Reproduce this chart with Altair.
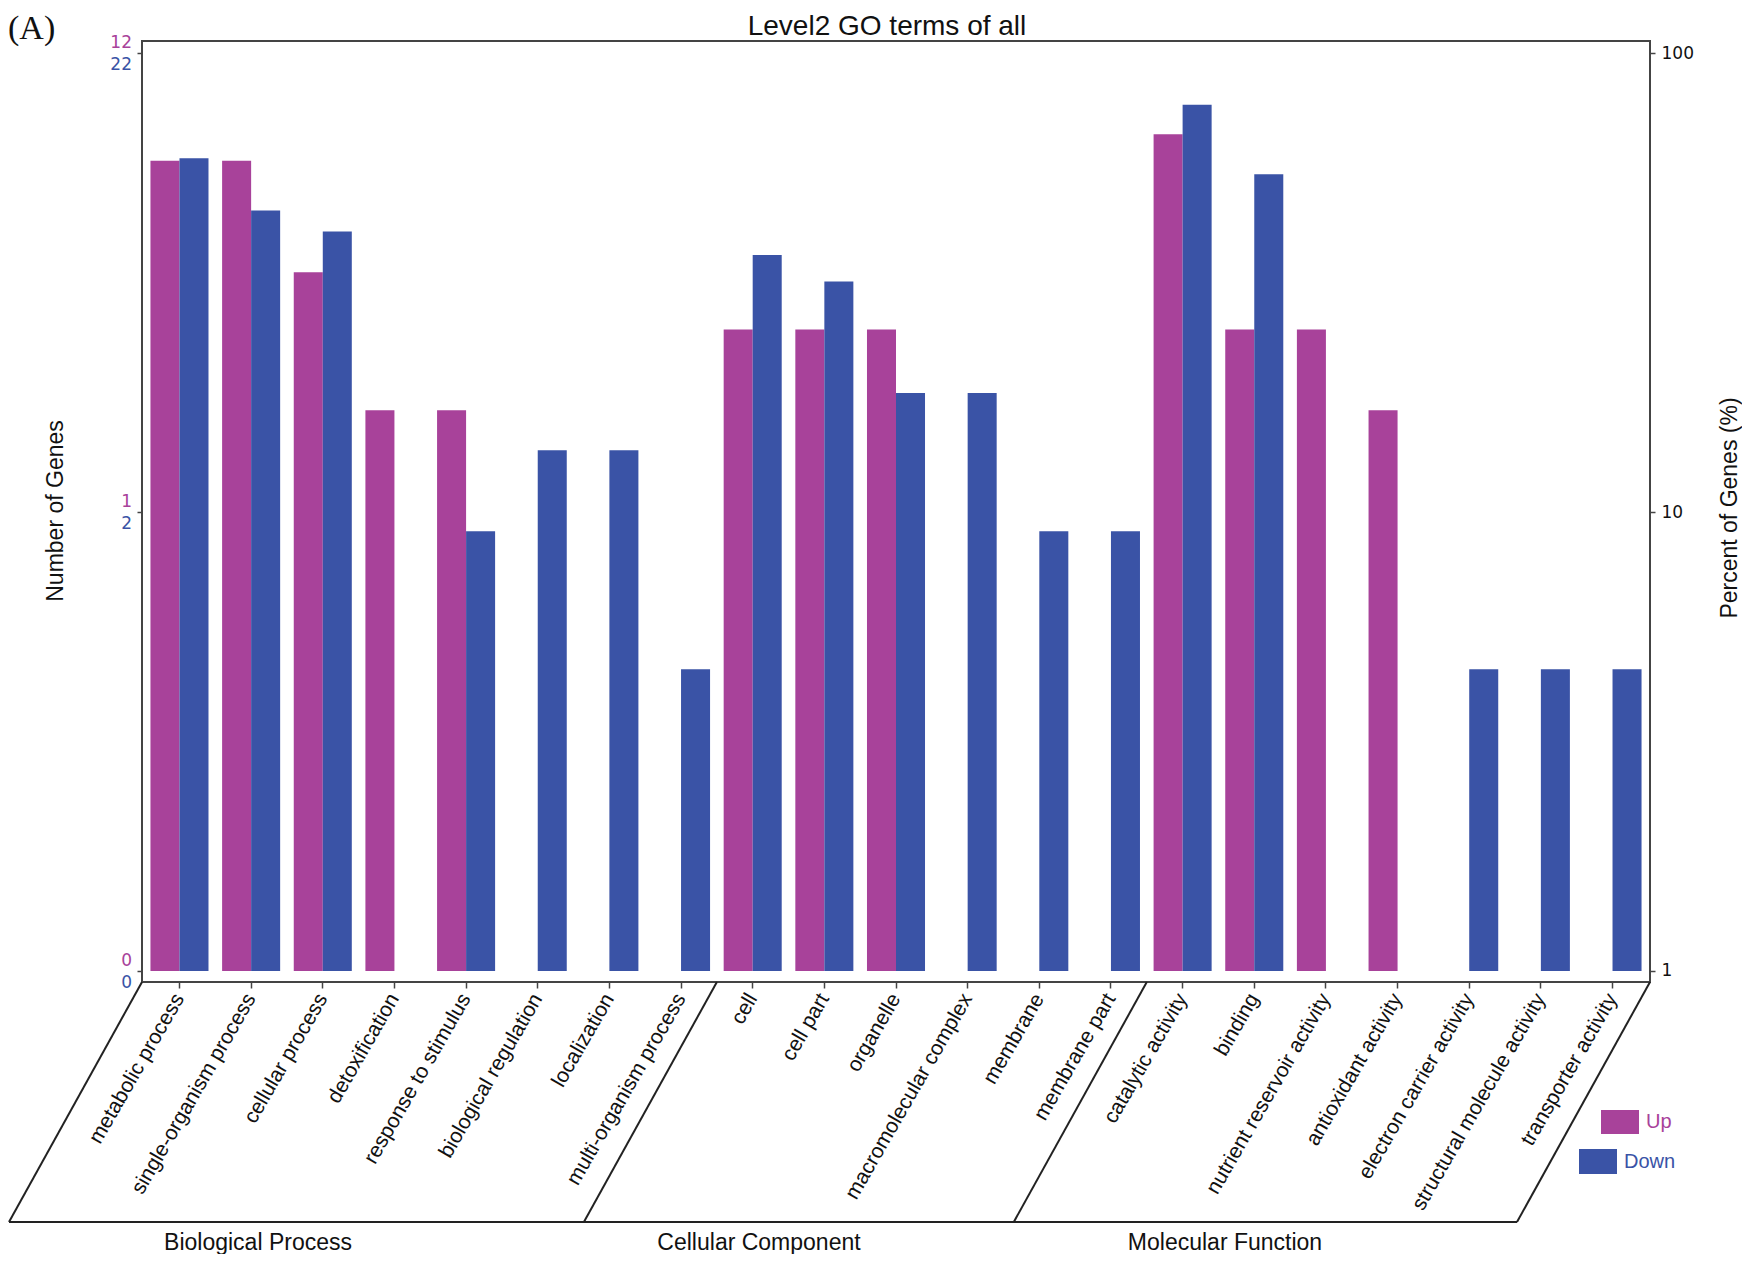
import altair as alt
import pandas as pd

# ---------------- data ----------------
categories = [
    "metabolic process", "single-organism process", "cellular process",
    "detoxification", "response to stimulus", "biological regulation",
    "localization", "multi-organism process",
    "cell", "cell part", "organelle", "macromolecular complex",
    "membrane", "membrane part",
    "catalytic activity", "binding", "nutrient reservoir activity",
    "antioxidant activity", "electron carrier activity",
    "structural molecule activity", "transporter activity",
]
group_names = ["Biological Process", "Cellular Component", "Molecular Function"]
up_counts = [7, 7, 4, 2, 2, 0, 0, 0, 3, 3, 3, 0, 0, 0, 8, 3, 3, 2, 0, 0, 0]
down_counts = [13, 10, 9, 0, 2, 3, 3, 1, 8, 7, 4, 4, 2, 2, 17, 12, 0, 0, 1, 1, 1]
up_total = 12
down_total = 22
series = ["Up", "Down"]
colors = ["#A8429A", "#3A53A6"]
tick_percents = [1, 10, 100]
up_tick_labels = ["0", "1", "12"]
down_tick_labels = ["0", "2", "22"]

rows = []
for cat, u, d in zip(categories, up_counts, down_counts):
    if u > 0:
        rows.append({"term": cat, "series": "Up", "count": u, "total": up_total})
    if d > 0:
        rows.append({"term": cat, "series": "Down", "count": d, "total": down_total})
df = pd.DataFrame(rows)
ticks_df = pd.DataFrame({"p": tick_percents, "up": up_tick_labels, "down": down_tick_labels})
one = pd.DataFrame({"k": [0]})

# ---------------- layout ----------------
W, H = 1508, 941
FLOOR = 240       # depth of the slanted floor
SLANT = 133       # horizontal shift of the floor
LAB = "Liberation Sans"
NUM = "DejaVu Sans"
AX = "#444444"

yscale = alt.Scale(type="log", domain=[0.946, 106.4], nice=False)

bars = alt.Chart(df).transform_calculate(
    pct="datum.count / datum.total * 100", base="1"
).mark_bar().encode(
    x=alt.X("term:N", sort=categories,
            scale=alt.Scale(paddingInner=0.19, paddingOuter=0.118),
            axis=alt.Axis(title=None, labelAngle=300, labelAlign="right",
                          labelBaseline="middle", labelFont=LAB, labelFontSize=21,
                          labelColor="#111111", labelPadding=7, tickSize=6,
                          tickColor=AX, tickWidth=1.5, domain=False, labelLimit=400)),
    xOffset=alt.XOffset("series:N", sort=series,
                        scale=alt.Scale(domain=series, paddingInner=0, paddingOuter=0)),
    y=alt.Y("pct:Q", scale=yscale,
            axis=alt.Axis(orient="right", values=tick_percents, format="d", title=None,
                          domain=False, grid=False, tickSize=5, tickColor=AX, tickWidth=1.5,
                          labelFont=NUM, labelFontSize=17, labelColor="#111111",
                          labelPadding=6)),
    y2="base:Q",
    color=alt.Color("series:N", scale=alt.Scale(domain=series, range=colors), legend=None),
)

left_up = alt.Chart(ticks_df).mark_text(
    align="right", baseline="middle", dy=-10, font=NUM, fontSize=17, color=colors[0]
).encode(
    x=alt.value(-10),
    y=alt.Y("p:Q", scale=yscale,
            axis=alt.Axis(orient="left", values=tick_percents, labels=False, title=None,
                          domain=False, grid=False, tickSize=5, tickColor=AX, tickWidth=1.5)),
    text="up:N",
)
left_down = alt.Chart(ticks_df).mark_text(
    align="right", baseline="middle", dy=12, font=NUM, fontSize=17, color=colors[1]
).encode(
    x=alt.value(-10),
    y=alt.Y("p:Q", scale=yscale, axis=None),
    text="down:N",
)

def rule(x1, y1, x2, y2):
    return alt.Chart(one).mark_rule(color="#222222", strokeWidth=2).encode(
        x=alt.value(x1), y=alt.value(y1), x2=alt.value(x2), y2=alt.value(y2))

div1 = 574.9
div2 = 1004.8
floor_layers = [
    rule(0, H, -SLANT, H + FLOOR),
    rule(div1, H, div1 - SLANT, H + FLOOR),
    rule(div2, H, div2 - SLANT, H + FLOOR),
    rule(W, H, W - SLANT, H + FLOOR),
    rule(-SLANT, H + FLOOR, W - SLANT, H + FLOOR),
]

def label(txt, x, y, size=20, color="#111111", align="center", font=LAB, angle=0, weight="normal"):
    kw = dict(align=align, baseline="middle", font=font, fontSize=size, color=color,
              fontWeight=weight)
    if angle:
        kw["angle"] = angle
    return alt.Chart(one).mark_text(**kw).encode(
        x=alt.value(x), y=alt.value(y), text=alt.value(txt))

texts = [
    label("Level2 GO terms of all", 745, -14, size=28),
    label("(A)", -134, -12, size=34, align="left", font="Liberation Serif"),
    label("Number of Genes", -86, 470, size=23, angle=270),
    label("Percent of Genes (%)", 1588, 467, size=23, angle=270),
    label(group_names[0], 116, 1202, size=23),
    label(group_names[1], 617, 1202, size=23),
    label(group_names[2], 1083, 1202, size=23),
    label(series[0], 1504, 1081, size=20, color=colors[0], align="left"),
    label(series[1], 1482, 1121, size=20, color=colors[1], align="left"),
]

def swatch(x1, y1, x2, y2, color):
    return alt.Chart(one).mark_rect(color=color).encode(
        x=alt.value(x1), y=alt.value(y1), x2=alt.value(x2), y2=alt.value(y2))

legend = [
    swatch(1459, 1069, 1497, 1093, colors[0]),
    swatch(1437, 1108, 1475, 1133, colors[1]),
]

chart = alt.layer(bars, left_up, left_down, *floor_layers, *texts, *legend).properties(
    width=W, height=H,
    padding={"left": 134, "top": 33, "right": 92, "bottom": 272},
    autosize=alt.AutoSizeParams(type="none"),
).resolve_axis(y="independent").configure_view(stroke=AX, strokeWidth=2)

chart.save("out.html", embed_options={"renderer": "svg", "actions": False})
